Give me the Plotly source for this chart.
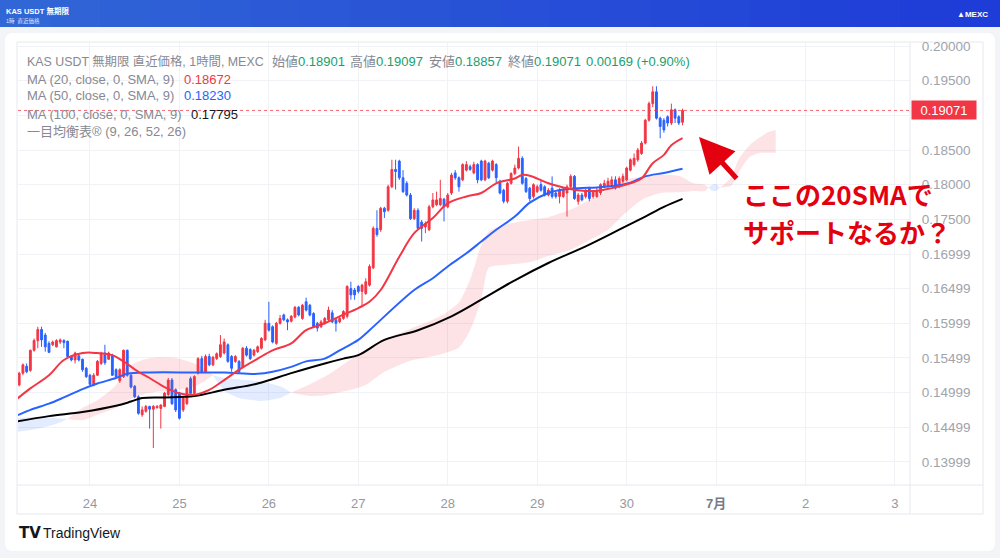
import pandas as pd
import plotly.graph_objects as go

# ---------------- data ----------------
candle_start = "2024-06-23 05:00"   # first hourly candle
opens = [0.1511,0.1528,0.1538,0.1532,0.1561,0.1575,0.1591,0.1583,0.1571,0.1569,
         0.1566,0.1573,0.1575,0.1574,0.1552,0.1547,0.1553,0.1548,0.1535,0.1525,
         0.1511,0.1525,0.1542,0.1557,0.1548,0.1553,0.1533,0.1517,0.1523,0.1561,
         0.1525,0.1509,0.1494,0.1468,0.1473,0.1480,0.1476,0.1478,0.1477,0.1480,
         0.1497,0.1518,0.1504,0.1499,0.1475,0.1484,0.1520,0.1499,0.1528,0.1549,
         0.1530,0.1552,0.1540,0.1549,0.1552,0.1557,0.1569,0.1552,0.1545,0.1545,
         0.1537,0.1564,0.1562,0.1554,0.1559,0.1564,0.1576,0.1600,0.1595,0.1571,
         0.1600,0.1612,0.1605,0.1603,0.1609,0.1623,0.1607,0.1631,0.1626,0.1614,
         0.1600,0.1595,0.1600,0.1605,0.1615,0.1605,0.1602,0.1607,0.1610,0.1650,
         0.1648,0.1653,0.1646,0.1643,0.1655,0.1680,0.1737,0.1735,0.1766,0.1763,
         0.1797,0.1822,0.1834,0.1810,0.1802,0.1785,0.1751,0.1763,0.1746,0.1739,
         0.1735,0.1768,0.1771,0.1771,0.1779,0.1768,0.1788,0.1817,0.1810,0.1807,
         0.1821,0.1826,0.1817,0.1829,0.1834,0.1807,0.1831,0.1821,0.1829,0.1805,
         0.1792,0.1776,0.1802,0.1816,0.1824,0.1838,0.1809,0.1795,0.1783,0.1790,
         0.1800,0.1797,0.1785,0.1795,0.1788,0.1783,0.1783,0.1788,0.1797,0.1812,
         0.1776,0.1785,0.1783,0.1795,0.1783,0.1783,0.1788,0.1797,0.1798,0.1800,
         0.1807,0.1797,0.1805,0.1807,0.1821,0.1829,0.1836,0.1845,0.1860,0.1893,
         0.1917,0.1934,0.1896,0.1893,0.1898,0.1889,0.1908,0.1898,0.18901]
highs = [0.1530,0.1542,0.1542,0.1562,0.1578,0.1595,0.1595,0.1586,0.1574,0.1575,
         0.1577,0.1578,0.1577,0.1575,0.1554,0.1559,0.1556,0.1549,0.1537,0.1527,
         0.1528,0.1547,0.1559,0.1569,0.1559,0.1556,0.1535,0.1535,0.1562,0.1562,
         0.1528,0.1511,0.1496,0.1480,0.1482,0.1481,0.1482,0.1482,0.1483,0.1501,
         0.1521,0.1521,0.1506,0.1501,0.1494,0.1508,0.1523,0.1525,0.1551,0.1553,
         0.1555,0.1556,0.1553,0.1558,0.1583,0.1578,0.1571,0.1554,0.1554,0.1547,
         0.1566,0.1567,0.1564,0.1563,0.1568,0.1580,0.1605,0.1631,0.1597,0.1602,
         0.1612,0.1614,0.1607,0.1612,0.1625,0.1625,0.1628,0.1637,0.1628,0.1616,
         0.1602,0.1605,0.1609,0.1624,0.1619,0.1607,0.1609,0.1619,0.1655,0.1660,
         0.1651,0.1655,0.1657,0.1665,0.1685,0.1740,0.1763,0.1768,0.1768,0.1800,
         0.1836,0.1836,0.1836,0.1821,0.1805,0.1788,0.1766,0.1766,0.1749,0.1747,
         0.1771,0.1788,0.1790,0.1807,0.1781,0.1788,0.1817,0.1821,0.1812,0.1831,
         0.1834,0.1829,0.1833,0.1831,0.1836,0.1836,0.1833,0.1836,0.1831,0.1807,
         0.1794,0.1804,0.1818,0.1829,0.1855,0.1841,0.1811,0.1797,0.1802,0.1800,
         0.1807,0.1799,0.1795,0.1812,0.1790,0.1795,0.1795,0.1800,0.1815,0.1814,
         0.1788,0.1788,0.1795,0.1797,0.1792,0.1795,0.1802,0.1807,0.1810,0.1812,
         0.1812,0.1812,0.1816,0.1826,0.1838,0.1845,0.1853,0.1863,0.1895,0.1920,
         0.1942,0.1942,0.1898,0.1896,0.1900,0.1917,0.1910,0.1900,0.19097]
lows  = [0.1509,0.1525,0.1528,0.1530,0.1559,0.1564,0.1566,0.1559,0.1557,0.1567,
         0.1565,0.1570,0.1564,0.1551,0.1545,0.1542,0.1545,0.1530,0.1521,0.1511,
         0.1509,0.1524,0.1540,0.1540,0.1547,0.1524,0.1521,0.1514,0.1521,0.1523,
         0.1506,0.1492,0.1468,0.1465,0.1471,0.1448,0.1420,0.1477,0.1448,0.1479,
         0.1495,0.1482,0.1472,0.1461,0.1472,0.1482,0.1496,0.1496,0.1526,0.1528,
         0.1528,0.1538,0.1538,0.1547,0.1550,0.1555,0.1543,0.1530,0.1543,0.1528,
         0.1535,0.1552,0.1547,0.1552,0.1557,0.1562,0.1574,0.1588,0.1571,0.1569,
         0.1598,0.1603,0.1590,0.1601,0.1607,0.1610,0.1605,0.1617,0.1610,0.1593,
         0.1588,0.1593,0.1598,0.1602,0.1600,0.1588,0.1600,0.1605,0.1607,0.1634,
         0.1634,0.1643,0.1624,0.1641,0.1653,0.1678,0.1725,0.1732,0.1752,0.1761,
         0.1795,0.1793,0.1807,0.1788,0.1783,0.1749,0.1749,0.1735,0.1718,0.1730,
         0.1733,0.1766,0.1769,0.1769,0.1747,0.1766,0.1785,0.1807,0.1790,0.1805,
         0.1819,0.1820,0.1815,0.1802,0.1805,0.1805,0.1808,0.1819,0.1802,0.1786,
         0.1773,0.1773,0.1800,0.1814,0.1822,0.1800,0.1788,0.1776,0.1780,0.1788,
         0.1790,0.1783,0.1783,0.1780,0.1780,0.1773,0.1781,0.1754,0.1795,0.1778,
         0.1771,0.1776,0.1780,0.1776,0.1780,0.1781,0.1785,0.1795,0.1796,0.1798,
         0.1793,0.1795,0.1802,0.1805,0.1819,0.1826,0.1833,0.1843,0.1858,0.1891,
         0.1912,0.1894,0.1867,0.1875,0.1884,0.1886,0.1889,0.1886,0.18857]
closes = [0.1528,0.1540,0.1530,0.1561,0.1575,0.1591,0.1576,0.1566,0.1558,0.1573,
          0.1575,0.1576,0.1572,0.1552,0.1547,0.1557,0.1547,0.1533,0.1523,0.1512,
          0.1525,0.1545,0.1557,0.1543,0.1557,0.1525,0.1523,0.1533,0.1561,0.1525,
          0.1508,0.1494,0.1470,0.1475,0.1480,0.1476,0.1480,0.1480,0.1482,0.1499,
          0.1518,0.1484,0.1475,0.1463,0.1492,0.1506,0.1499,0.1523,0.1549,0.1530,
          0.1552,0.1540,0.1551,0.1556,0.1569,0.1573,0.1545,0.1535,0.1552,0.1530,
          0.1564,0.1554,0.1549,0.1561,0.1566,0.1578,0.1600,0.1590,0.1573,0.1600,
          0.1607,0.1605,0.1602,0.1610,0.1623,0.1612,0.1626,0.1619,0.1612,0.1595,
          0.1593,0.1602,0.1607,0.1619,0.1602,0.1600,0.1607,0.1617,0.1653,0.1641,
          0.1641,0.1646,0.1655,0.1660,0.1682,0.1737,0.1728,0.1766,0.1761,0.1797,
          0.1822,0.1819,0.1810,0.1790,0.1785,0.1751,0.1763,0.1737,0.1737,0.1744,
          0.1768,0.1778,0.1778,0.1780,0.1768,0.1785,0.1814,0.1810,0.1797,0.1829,
          0.1829,0.1822,0.1829,0.1807,0.1807,0.1834,0.1810,0.1834,0.1810,0.1788,
          0.1776,0.1802,0.1816,0.1824,0.1838,0.1802,0.1790,0.1780,0.1800,0.1797,
          0.1792,0.1785,0.1792,0.1783,0.1783,0.1792,0.1792,0.1797,0.1812,0.1780,
          0.1785,0.1778,0.1792,0.1780,0.1790,0.1792,0.1800,0.1802,0.1805,0.1807,
          0.1795,0.1809,0.1812,0.1824,0.1836,0.1838,0.1850,0.1860,0.1893,0.1917,
          0.1934,0.1896,0.1884,0.1879,0.1889,0.1908,0.1896,0.1889,0.19071]
change_text = "0.00169 (+0.90%)"

ma_time_a = ["2024-06-23 04:00","2024-06-23 08:00","2024-06-23 13:00","2024-06-23 17:00",
             "2024-06-23 22:00","2024-06-24 02:00","2024-06-24 06:00","2024-06-24 09:00",
             "2024-06-24 13:00","2024-06-24 16:00","2024-06-24 20:00","2024-06-25 00:00",
             "2024-06-25 04:00","2024-06-25 08:00","2024-06-25 12:00","2024-06-25 16:00",
             "2024-06-25 21:00","2024-06-26 01:00","2024-06-26 06:00","2024-06-26 10:00",
             "2024-06-26 15:00","2024-06-26 19:00","2024-06-27 00:00","2024-06-27 03:00",
             "2024-06-27 06:00","2024-06-27 11:00","2024-06-27 15:00","2024-06-27 20:00",
             "2024-06-28 00:00","2024-06-28 05:00","2024-06-28 09:00","2024-06-28 13:00",
             "2024-06-28 18:00","2024-06-28 20:00","2024-06-28 22:00","2024-06-29 03:00",
             "2024-06-29 07:00","2024-06-29 11:00","2024-06-29 16:00","2024-06-29 20:00",
             "2024-06-30 01:00","2024-06-30 04:00","2024-06-30 07:00","2024-06-30 10:00",
             "2024-06-30 12:00","2024-06-30 15:00"]
ma20 = [0.1489,0.1506,0.1525,0.1547,0.1557,0.1557,0.1554,0.1545,0.1530,0.1521,
        0.1508,0.1499,0.1497,0.1504,0.1518,0.1533,0.1549,0.1561,0.1571,0.1590,
        0.1600,0.1610,0.1622,0.1631,0.1648,0.1696,0.1730,0.1752,0.1773,0.1783,
        0.1788,0.1802,0.1809,0.1814,0.1813,0.1802,0.1796,0.1792,0.1791,0.1795,
        0.1802,0.1809,0.1831,0.1843,0.1857,0.18672]

ma_time_b = ["2024-06-23 04:00","2024-06-23 08:00","2024-06-23 13:00","2024-06-23 17:00",
             "2024-06-23 22:00","2024-06-24 02:00","2024-06-24 07:00","2024-06-24 10:00",
             "2024-06-24 16:00","2024-06-25 04:00","2024-06-25 12:00","2024-06-25 21:00",
             "2024-06-26 01:00","2024-06-26 06:00","2024-06-26 10:00","2024-06-26 15:00",
             "2024-06-26 19:00","2024-06-27 00:00","2024-06-27 03:00","2024-06-27 15:00",
             "2024-06-27 20:00","2024-06-28 00:00","2024-06-28 05:00","2024-06-28 09:00",
             "2024-06-28 13:00","2024-06-28 18:00","2024-06-28 22:00","2024-06-29 03:00",
             "2024-06-29 07:00","2024-06-29 11:00","2024-06-29 16:00","2024-06-29 20:00",
             "2024-06-30 01:00","2024-06-30 05:00","2024-06-30 10:00","2024-06-30 15:00"]
ma50 = [0.1466,0.1475,0.1484,0.1493,0.1505,0.1513,0.1521,0.1527,0.1529,0.1529,
        0.1529,0.1527,0.1530,0.1537,0.1545,0.1549,0.1561,0.1576,0.1590,0.1648,
        0.1665,0.1682,0.1701,0.1718,0.1735,0.1754,0.1774,0.1788,0.1793,0.1795,
        0.1796,0.1798,0.1803,0.1812,0.1817,0.18230]

ma_time_c = ["2024-06-23 04:00","2024-06-23 13:00","2024-06-23 22:00","2024-06-24 07:00",
             "2024-06-24 11:00","2024-06-24 14:00","2024-06-24 20:00","2024-06-25 04:00",
             "2024-06-25 12:00","2024-06-25 21:00","2024-06-26 06:00","2024-06-26 15:00",
             "2024-06-26 20:00","2024-06-27 00:00","2024-06-27 07:00","2024-06-27 16:00",
             "2024-06-28 01:00","2024-06-28 09:00","2024-06-28 18:00","2024-06-29 03:00",
             "2024-06-29 13:00","2024-06-29 22:00","2024-06-30 05:00","2024-06-30 10:00",
             "2024-06-30 15:00"]
ma100 = [0.1458,0.1466,0.1472,0.1481,0.1487,0.1492,0.1493,0.1495,0.1504,0.1513,
         0.1528,0.1542,0.1549,0.1554,0.1576,0.1590,0.1610,0.1634,0.1662,0.1687,
         0.1711,0.1735,0.1754,0.1768,0.17795]

cloud_time = ["2024-06-23 04:00","2024-06-23 11:00","2024-06-23 15:00","2024-06-23 18:00",
              "2024-06-23 22:00","2024-06-24 02:00","2024-06-24 07:00","2024-06-24 09:00",
              "2024-06-24 14:00","2024-06-24 18:00","2024-06-24 23:00","2024-06-25 03:00",
              "2024-06-25 06:00","2024-06-25 09:00","2024-06-25 12:00","2024-06-25 16:00",
              "2024-06-25 22:00","2024-06-26 03:00","2024-06-26 06:00","2024-06-26 11:00",
              "2024-06-26 16:00","2024-06-26 22:00","2024-06-27 02:00","2024-06-27 07:00",
              "2024-06-27 14:00","2024-06-27 22:00","2024-06-28 03:00","2024-06-28 06:00",
              "2024-06-28 09:00","2024-06-28 11:00","2024-06-28 15:00","2024-06-28 22:00",
              "2024-06-29 03:00","2024-06-29 09:00","2024-06-29 14:00","2024-06-29 19:00",
              "2024-06-29 23:00","2024-06-30 04:00","2024-06-30 09:00","2024-06-30 14:00",
              "2024-06-30 18:00","2024-06-30 21:00","2024-06-30 22:00","2024-06-30 23:00",
              "2024-07-01 00:00","2024-07-01 01:00","2024-07-01 04:00","2024-07-01 06:00",
              "2024-07-01 09:00","2024-07-01 12:00","2024-07-01 14:00","2024-07-01 16:00"]
span_a = [0.1443,0.1449,0.1455,0.1462,0.1478,0.1489,0.1511,0.1533,0.1547,0.1551,
          0.1550,0.1544,0.1536,0.1525,0.1503,0.1492,0.1488,0.1492,0.1500,0.1512,
          0.1526,0.1548,0.1562,0.1577,0.1592,0.1610,0.1630,0.1663,0.1713,0.1732,
          0.1742,0.1749,0.1753,0.1764,0.1778,0.1792,0.1807,0.1811,0.1814,0.1813,
          0.1802,0.1800,0.1796,0.1791,0.1791,0.1796,0.1810,0.1836,0.1857,0.1869,
          0.1876,0.1879]
span_b = [0.1463,0.1465,0.1463,0.1462,0.1460,0.1468,0.1478,0.1486,0.1497,0.1501,
          0.1504,0.1507,0.1514,0.1525,0.1521,0.1519,0.1516,0.1509,0.1500,0.1495,
          0.1497,0.1504,0.1511,0.1530,0.1546,0.1555,0.1565,0.1590,0.1634,0.1680,
          0.1684,0.1688,0.1697,0.1706,0.1720,0.1735,0.1756,0.1778,0.1788,0.1789,
          0.1791,0.1791,0.1796,0.1800,0.1801,0.1796,0.1798,0.1817,0.1840,0.1846,
          0.1846,0.1846]

last_price = 0.19071
y_tick_vals = [0.13999,0.14499,0.14999,0.15499,0.15999,0.16499,0.16999,0.175,0.18,0.185,0.19,0.195,0.20]
y_tick_text = ["0.13999","0.14499","0.14999","0.15499","0.15999","0.16499","0.16999",
               "0.17500","0.18000","0.18500","","0.19500","0.20000"]
x_tick_vals = ["2024-06-24","2024-06-25","2024-06-26","2024-06-27","2024-06-28","2024-06-29",
               "2024-06-30","2024-07-01","2024-07-02","2024-07-03"]
x_tick_text = ["24","25","26","27","28","29","30","<span style='color:#787b86'><b>7月</b></span>","2","3"]

# ---------------- styling helpers ----------------
W, H = 1000, 558
L, R, T, B = 18, 910, 42, 485
def px(x): return (x - L) / (R - L)
def py(y): return (B - y) / (B - T)

RED = "#f23645"; BLUE = "#2962ff"; GREEN = "#17a06d"; GRAY = "#868993"
FONT = "Liberation Sans, Noto Sans CJK JP, sans-serif"

fig = go.Figure()

# Ichimoku cloud: split into segments where spans cross
segs, cur = [], [0]
for k in range(1, len(cloud_time)):
    cur.append(k)
    if span_a[k] == span_b[k] and k != len(cloud_time) - 1:
        segs.append(cur)
        cur = [k]
segs.append(cur)
for seg in segs:
    bull = any(span_a[k] > span_b[k] for k in seg)
    col = "rgba(242,54,69,0.14)" if bull else "rgba(41,98,255,0.13)"
    t = [cloud_time[k] for k in seg]
    lo = [min(span_a[k], span_b[k]) for k in seg]
    hi = [max(span_a[k], span_b[k]) for k in seg]
    fig.add_trace(go.Scatter(x=t, y=lo, mode="lines", line=dict(width=0, shape="spline", smoothing=0.6),
                             hoverinfo="skip", showlegend=False))
    fig.add_trace(go.Scatter(x=t, y=hi, mode="lines", line=dict(width=0, shape="spline", smoothing=0.6),
                             fill="tonexty", fillcolor=col, hoverinfo="skip", showlegend=False))

times = pd.date_range(candle_start, periods=len(closes), freq="h")
fig.add_trace(go.Candlestick(
    x=times, open=opens, high=highs, low=lows, close=closes,
    increasing=dict(line=dict(color=RED, width=1), fillcolor=RED),
    decreasing=dict(line=dict(color=BLUE, width=1), fillcolor=BLUE),
    whiskerwidth=0, showlegend=False, hoverinfo="skip"))

fig.add_trace(go.Scatter(x=ma_time_c, y=ma100, mode="lines", line=dict(color="#000000", width=2, shape="spline"),
                         showlegend=False, hoverinfo="skip"))
fig.add_trace(go.Scatter(x=ma_time_b, y=ma50, mode="lines", line=dict(color=BLUE, width=2, shape="spline"),
                         showlegend=False, hoverinfo="skip"))
fig.add_trace(go.Scatter(x=ma_time_a, y=ma20, mode="lines", line=dict(color=RED, width=2, shape="spline"),
                         showlegend=False, hoverinfo="skip"))

shapes = []
# header gradient strips
n = 20
for k in range(n):
    f = k / (n - 1)
    r = int(0x31 + (0x1e - 0x31) * f); g = int(0x66 + (0x3c - 0x66) * f); b = int(0xd6 + (0xd8 - 0xd6) * f)
    shapes.append(dict(type="rect", xref="paper", yref="paper", layer="below",
                       x0=px(k * W / n), x1=px((k + 1) * W / n + 1), y0=py(27), y1=py(0),
                       line=dict(width=0), fillcolor=f"rgb({r},{g},{b})"))
# white card with rounded corners
x0c, x1c, y0c, y1c = px(5), px(995), py(551), py(33)
rx, ry = 8 / (R - L), 8 / (B - T)
path = (f"M {x0c+rx},{y1c} L {x1c-rx},{y1c} Q {x1c},{y1c} {x1c},{y1c-ry} "
        f"L {x1c},{y0c+ry} Q {x1c},{y0c} {x1c-rx},{y0c} L {x0c+rx},{y0c} "
        f"Q {x0c},{y0c} {x0c},{y0c+ry} L {x0c},{y1c-ry} Q {x0c},{y1c} {x0c+rx},{y1c} Z")
shapes.append(dict(type="path", path=path, xref="paper", yref="paper", layer="below",
                   fillcolor="#ffffff", line=dict(width=0)))
BORDER = "#e6e8ee"
shapes.append(dict(type="rect", xref="paper", yref="paper", layer="below",
                   x0=px(17), x1=px(983), y0=py(514), y1=py(42), line=dict(color=BORDER, width=1)))
shapes.append(dict(type="line", xref="paper", yref="paper", x0=px(17), x1=px(983), y0=0, y1=0,
                   line=dict(color=BORDER, width=1)))
shapes.append(dict(type="line", xref="paper", yref="paper", x0=1, x1=1, y0=py(514), y1=py(42),
                   line=dict(color=BORDER, width=1)))
# last price dotted line
shapes.append(dict(type="line", xref="paper", yref="y", x0=0, x1=1, y0=last_price, y1=last_price,
                   line=dict(color="rgba(242,54,69,0.75)", width=1, dash="dot")))

ann = []
def txt(x, y, s, size=13, color=GRAY, family=FONT, **kw):
    ann.append(dict(x=px(x), y=py(y), xref="paper", yref="paper", text=s, showarrow=False,
                    xanchor="left", yanchor="middle", font=dict(size=size, color=color, family=family), **kw))

def g(s): return f"<span style='color:{GREEN}'>{s}</span>"
txt(25, 61, "KAS USDT 無期限 直近価格, 1時間, MEXC", size=12.4)
txt(270, 61, "始値" + g(f"{opens[-1]:.5f}"))
txt(348, 61, "高値" + g(f"{highs[-1]:.5f}"))
txt(427, 61, "安値" + g(f"{lows[-1]:.5f}"))
txt(506, 61, "終値" + g(f"{closes[-1]:.5f}"))
txt(584, 61, g(change_text))
txt(25, 79, "MA (20, close, 0, SMA, 9)")
txt(182, 79, f"{ma20[-1]:.5f}", color=RED)
txt(25, 96, "MA (50, close, 0, SMA, 9)")
txt(182, 96, f"{ma50[-1]:.5f}", color=BLUE)
txt(25, 114, "MA (100, close, 0, SMA, 9)")
txt(189, 114, f"{ma100[-1]:.5f}", color="#131722")
txt(25, 131, "一目均衡表® (9, 26, 52, 26)")

# header texts
txt(4, 11, "<b>KAS USDT 無期限</b>", size=7.5, color="#ffffff")
txt(4, 21, "1時  直近価格", size=5.5, color="#dfe6ff")
txt(955, 14, "<b>▲MEXC</b>", size=8, color="#ffffff")

# TradingView logo
txt(17, 533, "<b>TV</b>", size=15, color="#131722", family="DejaVu Sans")
txt(41, 533, "TradingView", size=14, color="#131722")

# callout
CALL = "#e3000f"
txt(741, 193, "<b>ここの20SMAで</b>", size=26, color=CALL, family="Noto Sans CJK JP")
txt(741, 232, "<b>サポートなるか？</b>", size=26, color=CALL, family="Noto Sans CJK JP")
ann.append(dict(x=px(699), y=py(137), xref="paper", yref="paper", text="", showarrow=True,
                ax=39, ay=43, axref="pixel", ayref="pixel", arrowcolor=CALL, arrowwidth=5,
                arrowhead=2, arrowsize=1.4, standoff=0))

# price label on the axis
ann.append(dict(x=1, y=last_price, xref="paper", yref="y", text=f"{last_price:.5f}", showarrow=False,
                xanchor="left", yanchor="middle", xshift=1, bgcolor=RED, width=62, height=16, borderpad=1,
                font=dict(size=13, color="#ffffff", family=FONT)))

fig.update_layout(
    width=W, height=H, margin=dict(l=L, r=W - R, t=T, b=H - B),
    paper_bgcolor="#f2f4f8", plot_bgcolor="rgba(0,0,0,0)",
    font=dict(family=FONT, size=13, color="#9598a1"),
    shapes=shapes, annotations=ann, showlegend=False, hovermode=False,
    xaxis=dict(type="date", range=["2024-06-23 04:41", "2024-07-03 04:02"],
               tickvals=x_tick_vals, ticktext=x_tick_text, showgrid=True, gridcolor="#f0f2f6",
               gridwidth=1, zeroline=False, showline=False, ticks="outside", ticklen=6,
               tickcolor="rgba(0,0,0,0)", rangeslider=dict(visible=False),
               tickfont=dict(size=13, color="#9598a1")),
    yaxis=dict(side="right", range=[0.13666, 0.20059], tickvals=y_tick_vals, ticktext=y_tick_text,
               showgrid=True, gridcolor="#f0f2f6", zeroline=False, showline=False,
               ticks="outside", ticklen=8, tickcolor="rgba(0,0,0,0)",
               tickfont=dict(size=13.5, color="#a0a3ab")),
)

fig.write_html("out.html", config=dict(displayModeBar=False),
               post_script="document.body.style.margin='0';document.body.style.overflow='hidden';")
